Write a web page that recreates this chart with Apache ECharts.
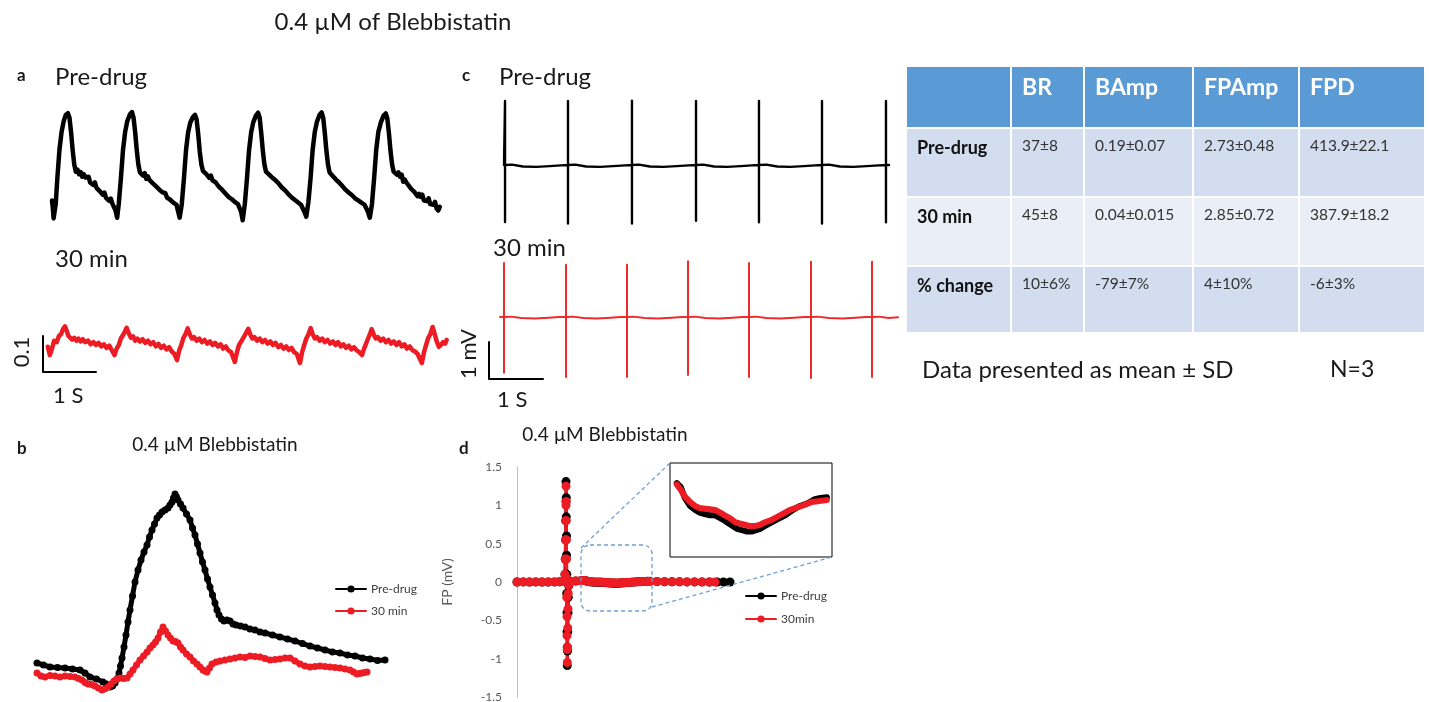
<!DOCTYPE html>
<html><head><meta charset="utf-8">
<script src="https://cdn.jsdelivr.net/npm/echarts@6/dist/echarts.min.js"></script>
<style>html,body{margin:0;padding:0;background:#fff}#c{width:1429px;height:702px}</style>
</head><body><div id="c"></div>
<script>
// ---------- DATA ----------
// Panel a, pre-drug beating trace: [time s, amplitude]
var blackA = [
[0.00,0.04],[0.015,0.02],[0.03,-0.01],[0.05,-0.015],[0.07,0.03],[0.10,0.10],[0.14,0.18],[0.18,0.23],[0.22,0.26],[0.26,0.278],[0.30,0.283],[0.33,0.27],[0.36,0.23],[0.39,0.18],[0.42,0.14],[0.45,0.12],[0.48,0.126],[0.51,0.113],[0.54,0.119],[0.57,0.106],[0.60,0.113],[0.63,0.104],[0.66,0.099],[0.69,0.106],[0.72,0.09],[0.75,0.093],[0.78,0.083],[0.81,0.09],[0.84,0.075],[0.87,0.079],[0.90,0.066],[0.93,0.071],[0.96,0.056],[0.99,0.062],[1.02,0.047],[1.05,0.05],[1.08,0.039],[1.11,0.045],[1.14,0.031],[1.17,0.036],[1.20,0.012],[1.23,-0.008],
[1.26,0.03],[1.30,0.10],[1.34,0.18],[1.38,0.23],[1.42,0.26],[1.47,0.279],[1.51,0.286],[1.54,0.27],[1.57,0.23],[1.60,0.18],[1.63,0.14],[1.66,0.118],[1.69,0.121],[1.72,0.109],[1.75,0.116],[1.78,0.10],[1.81,0.107],[1.84,0.097],[1.87,0.102],[1.90,0.088],[1.93,0.092],[1.96,0.08],[1.99,0.083],[2.02,0.071],[2.05,0.075],[2.08,0.063],[2.11,0.058],[2.14,0.06],[2.17,0.048],[2.20,0.053],[2.23,0.042],[2.26,0.045],[2.29,0.034],[2.32,0.038],[2.35,0.028],[2.38,0.01],[2.41,-0.008],
[2.45,0.03],[2.49,0.10],[2.53,0.18],[2.57,0.23],[2.61,0.256],[2.66,0.272],[2.70,0.278],[2.73,0.265],[2.76,0.225],[2.79,0.175],[2.82,0.14],[2.85,0.122],[2.88,0.127],[2.91,0.114],[2.94,0.118],[2.97,0.103],[3.00,0.109],[3.03,0.096],[3.06,0.10],[3.09,0.09],[3.12,0.093],[3.15,0.078],[3.18,0.082],[3.21,0.07],[3.24,0.073],[3.27,0.06],[3.30,0.064],[3.33,0.05],[3.36,0.054],[3.39,0.044],[3.42,0.047],[3.45,0.036],[3.48,0.039],[3.51,0.03],[3.54,0.025],[3.57,0.008],[3.60,-0.015],
[3.64,0.03],[3.68,0.10],[3.72,0.18],[3.76,0.23],[3.80,0.258],[3.85,0.276],[3.89,0.284],[3.92,0.27],[3.95,0.228],[3.98,0.178],[4.01,0.14],[4.04,0.12],[4.07,0.124],[4.10,0.112],[4.13,0.117],[4.16,0.103],[4.19,0.106],[4.22,0.096],[4.25,0.098],[4.28,0.087],[4.31,0.09],[4.34,0.076],[4.37,0.079],[4.40,0.068],[4.43,0.07],[4.46,0.058],[4.49,0.061],[4.52,0.049],[4.55,0.053],[4.58,0.042],[4.61,0.045],[4.64,0.035],[4.67,0.038],[4.70,0.028],[4.73,0.03],[4.76,0.01],[4.80,-0.005],
[4.84,0.035],[4.88,0.10],[4.92,0.18],[4.96,0.23],[5.00,0.258],[5.05,0.278],[5.09,0.285],[5.12,0.27],[5.15,0.228],[5.18,0.178],[5.21,0.14],[5.24,0.118],[5.27,0.121],[5.30,0.108],[5.33,0.112],[5.36,0.098],[5.39,0.102],[5.42,0.09],[5.45,0.093],[5.48,0.08],[5.51,0.084],[5.54,0.07],[5.57,0.073],[5.60,0.062],[5.63,0.065],[5.66,0.055],[5.69,0.057],[5.72,0.046],[5.75,0.05],[5.78,0.04],[5.81,0.043],[5.84,0.034],[5.87,0.037],[5.90,0.028],[5.93,0.03],[5.96,0.01],[6.00,-0.008],
[6.04,0.03],[6.08,0.10],[6.12,0.18],[6.16,0.23],[6.21,0.258],[6.26,0.276],[6.30,0.282],[6.33,0.268],[6.36,0.228],[6.39,0.178],[6.42,0.14],[6.45,0.12],[6.48,0.125],[6.51,0.112],[6.54,0.118],[6.57,0.106],[6.60,0.112],[6.63,0.092],[6.66,0.098],[6.69,0.09],[6.72,0.095],[6.75,0.078],[6.78,0.072],[6.81,0.076],[6.84,0.064],[6.87,0.068],[6.90,0.052],[6.93,0.058],[6.96,0.05],[6.99,0.056],[7.02,0.04],[7.05,0.045],[7.08,0.038],[7.11,0.046],[7.14,0.03],[7.17,0.034],[7.20,0.028],[7.23,0.036],[7.26,0.018],[7.29,0.012],[7.32,0.022]
];
// Panel a, 30 min trace
var redA = [
[0.09,-0.005],[0.13,-0.028],[0.17,-0.01],[0.21,0.012],[0.26,0.008],[0.30,0.025],[0.34,0.03],[0.38,0.045],[0.415,0.052],[0.45,0.038],[0.48,0.025],[0.51,0.03],[0.55,0.015],[0.59,0.02],[0.63,0.012],[0.67,0.018],[0.71,0.01],[0.75,0.016],[0.80,0.008],[0.85,0.012],[0.90,0.002],[0.95,0.008],[1.00,0.0],[1.05,0.006],[1.10,-0.004],[1.15,0.002],[1.20,-0.008],[1.25,-0.002],[1.30,-0.015],[1.35,-0.028],[1.39,-0.01],[1.43,0.0],[1.47,0.018],[1.52,0.03],[1.579,0.048],
[1.62,0.032],[1.66,0.02],[1.70,0.024],[1.74,0.012],[1.78,0.018],[1.83,0.01],[1.88,0.016],[1.93,0.006],[1.98,0.012],[2.03,0.002],[2.08,0.008],[2.13,-0.004],[2.18,0.003],[2.23,-0.008],[2.28,-0.002],[2.33,-0.012],[2.38,-0.006],[2.43,-0.018],[2.48,-0.025],[2.53,-0.042],[2.57,-0.015],[2.61,0.0],[2.65,0.02],[2.69,0.03],[2.73,0.046],
[2.77,0.03],[2.81,0.018],[2.85,0.022],[2.90,0.012],[2.95,0.018],[3.00,0.008],[3.05,0.014],[3.10,0.004],[3.15,0.01],[3.20,0.0],[3.25,0.006],[3.30,-0.004],[3.35,0.002],[3.40,-0.01],[3.45,-0.004],[3.50,-0.015],[3.55,-0.02],[3.62,-0.047],[3.66,-0.02],[3.70,0.0],[3.75,0.012],[3.80,0.025],[3.874,0.045],
[3.91,0.03],[3.95,0.018],[3.99,0.022],[4.04,0.012],[4.09,0.018],[4.14,0.008],[4.19,0.014],[4.24,0.004],[4.29,0.01],[4.34,0.0],[4.39,0.006],[4.44,-0.006],[4.49,0.0],[4.54,-0.01],[4.59,-0.004],[4.64,-0.014],[4.69,-0.008],[4.74,-0.02],[4.79,-0.025],[4.85,-0.05],[4.89,-0.02],[4.93,0.0],[4.97,0.018],[5.01,0.03],[5.051,0.047],
[5.09,0.03],[5.13,0.018],[5.17,0.022],[5.22,0.012],[5.27,0.018],[5.32,0.008],[5.37,0.014],[5.42,0.004],[5.47,0.01],[5.52,0.0],[5.57,0.008],[5.62,-0.004],[5.67,0.002],[5.72,-0.008],[5.77,-0.002],[5.82,-0.012],[5.87,-0.006],[5.92,-0.015],[5.97,-0.02],[6.02,-0.028],[6.06,-0.01],[6.10,0.005],[6.14,0.02],[6.17,0.03],[6.202,0.044],
[6.24,0.03],[6.28,0.018],[6.32,0.022],[6.37,0.012],[6.42,0.018],[6.47,0.008],[6.52,0.014],[6.57,0.004],[6.62,0.01],[6.67,0.0],[6.72,0.008],[6.77,-0.004],[6.82,0.002],[6.87,-0.01],[6.92,-0.004],[6.97,-0.014],[7.02,-0.018],[7.07,-0.025],[7.15,-0.05],[7.19,-0.02],[7.23,0.0],[7.27,0.02],[7.31,0.03],[7.353,0.05],
[7.39,0.032],[7.43,0.01],[7.47,-0.005],[7.51,0.0],[7.55,0.008],[7.59,0.004],[7.62,0.014]
];
var scaleBarA = [[0,0.025],[0,-0.075],[1,-0.075]];   // 0.1 x 1 S
// Panel c, field potential traces [time s, mV]
var blackC = [
[0,0],[0.019,0],[0.019,1.73],[0.019,-1.54],[0.019,0],[0.15,0.01],[0.35,-0.04],[0.6,-0.05],[0.85,-0.03],[1.05,-0.01],
[1.185,0],[1.185,1.73],[1.185,-1.58],[1.185,0],[1.32,0.01],[1.52,-0.04],[1.78,-0.05],[2.02,-0.03],[2.24,-0.01],
[2.370,0],[2.370,1.74],[2.370,-1.58],[2.370,0],[2.50,0.01],[2.70,-0.04],[2.95,-0.05],[3.2,-0.03],[3.42,-0.01],
[3.556,0],[3.556,1.73],[3.556,-1.51],[3.556,0],[3.69,0.01],[3.89,-0.04],[4.13,-0.05],[4.38,-0.03],[4.59,-0.01],
[4.722,0],[4.722,1.73],[4.722,-1.55],[4.722,0],[4.86,0.01],[5.06,-0.04],[5.3,-0.05],[5.55,-0.03],[5.76,-0.01],
[5.889,0],[5.889,1.73],[5.889,-1.58],[5.889,0],[6.02,0.01],[6.22,-0.04],[6.47,-0.05],[6.72,-0.03],[6.94,-0.01],
[7.074,0],[7.074,1.73],[7.074,-1.55],[7.074,0],[7.13,0]
];
var redC = [
[0.204,0],[0.278,0],[0.278,1.46],[0.278,-1.51],[0.278,0],[0.40,0.01],[0.60,-0.03],[0.85,-0.04],[1.10,-0.02],[1.30,0],
[1.426,0],[1.426,1.41],[1.426,-1.62],[1.426,0],[1.55,0.01],[1.75,-0.03],[2.00,-0.04],[2.25,-0.02],[2.43,0],
[2.556,0],[2.556,1.41],[2.556,-1.62],[2.556,0],[2.68,0.01],[2.88,-0.03],[3.13,-0.04],[3.38,-0.02],[3.56,0],
[3.685,0],[3.685,1.51],[3.685,-1.57],[3.685,0],[3.81,0.01],[4.01,-0.03],[4.26,-0.04],[4.51,-0.02],[4.69,0],
[4.815,0],[4.815,1.46],[4.815,-1.62],[4.815,0],[4.94,0.01],[5.14,-0.03],[5.39,-0.04],[5.64,-0.02],[5.84,0],
[5.963,0],[5.963,1.49],[5.963,-1.65],[5.963,0],[6.09,0.01],[6.29,-0.03],[6.54,-0.04],[6.79,-0.02],[6.97,0],
[7.093,0],[7.093,1.49],[7.093,-1.62],[7.093,0],[7.22,0.01],[7.40,-0.03],[7.574,-0.01]
];
var scaleBarC = [[0,-0.676],[0,-1.676],[1,-1.676]];  // 1 mV x 1 S
// Panel b, averaged beat [ms, amplitude]
var blackB = [[14,0.135],[27,0.125],[40,0.115],[55,0.112],[70,0.11],[85,0.105],[100,0.10],[110,0.085],[120,0.065],[133,0.055],[146,0.04],[153,0.03],[160,0.015],[165,0.02],[170,0.035],[174,0.055],[178,0.085],[181,0.12],[184,0.16],[188,0.215],[192,0.275],[196,0.34],[200,0.40],[205,0.47],[210,0.54],[216,0.60],[222,0.65],[228,0.69],[234,0.725],[239,0.765],[244,0.80],[249,0.83],[254,0.86],[259,0.875],[264,0.89],[270,0.90],[276,0.91],[280,0.925],[284,0.94],[287,0.96],[290,0.98],[293,0.965],[296,0.95],[301,0.93],[306,0.91],[313,0.88],[320,0.85],[325,0.81],[330,0.775],[335,0.73],[340,0.685],[345,0.64],[350,0.60],[355,0.555],[360,0.515],[365,0.475],[370,0.435],[374,0.40],[378,0.375],[383,0.355],[388,0.345],[394,0.35],[400,0.345],[406,0.33],[412,0.325],[421,0.32],[430,0.315],[440,0.305],[450,0.30],[460,0.29],[470,0.285],[485,0.275],[500,0.265],[515,0.255],[530,0.245],[545,0.232],[560,0.22],[575,0.21],[590,0.20],[605,0.19],[620,0.185],[635,0.175],[650,0.17],[665,0.16],[680,0.155],[695,0.148],[710,0.15]];
var redB = [[14,0.085],[22,0.07],[30,0.065],[40,0.072],[50,0.07],[60,0.065],[70,0.07],[80,0.068],[90,0.065],[97,0.058],[104,0.05],[110,0.038],[116,0.03],[123,0.027],[130,0.02],[137,0.01],[144,0.0],[150,0.006],[156,0.015],[162,0.03],[168,0.045],[174,0.055],[180,0.06],[187,0.058],[194,0.06],[200,0.08],[206,0.10],[213,0.125],[220,0.15],[227,0.17],[234,0.19],[240,0.21],[246,0.225],[251,0.24],[256,0.26],[261,0.29],[266,0.315],[271,0.295],[276,0.275],[281,0.26],[286,0.245],[291,0.242],[296,0.235],[301,0.215],[306,0.20],[313,0.18],[320,0.165],[327,0.145],[334,0.13],[340,0.115],[346,0.10],[350,0.095],[354,0.09],[359,0.11],[364,0.13],[372,0.14],[380,0.145],[390,0.15],[400,0.155],[410,0.16],[420,0.165],[430,0.162],[440,0.17],[450,0.168],[460,0.165],[470,0.158],[480,0.15],[490,0.152],[500,0.155],[510,0.16],[520,0.16],[530,0.145],[540,0.13],[550,0.12],[560,0.115],[570,0.118],[580,0.12],[590,0.118],[600,0.115],[610,0.112],[620,0.11],[630,0.105],[640,0.10],[647,0.09],[654,0.08],[659,0.082],[664,0.085],[669,0.088],[674,0.09]];
// Panel d, field potential [ms, mV]
var dBlackSpike = [[0,0],[25,0.001],[50,-0.001],[75,0.001],[100,0],[125,-0.001],[150,0.001],[170,0.003],[185,0.006],[192,0.1],[193,0.3],[194,0.55],[195,0.8],[196,1.05],[196,1.31],[197,1.1],[197,0.85],[198,0.6],[198,0.35],[199,0.1],[199,-0.15],[200,-0.4],[200,-0.65],[201,-0.85],[201,-1.09],[202,-0.9],[203,-0.65],[204,-0.4],[205,-0.2],[207,-0.05],[215,0.006],[235,0.012],[255,0.017]];
var dRedSpike = [[0,0],[25,0.001],[50,-0.001],[75,0.001],[100,0],[125,-0.001],[150,0.001],[170,0.003],[185,0.006],[192,0.1],[193,0.3],[194,0.55],[195,0.8],[196,1.0],[196,1.25],[197,1.05],[197,0.8],[198,0.55],[198,0.3],[199,0.05],[199,-0.2],[200,-0.45],[200,-0.7],[201,-0.88],[201,-1.05],[202,-0.85],[203,-0.6],[204,-0.35],[205,-0.15],[207,-0.04],[215,0.006],[235,0.012],[255,0.016]];
var insetBlack = [[268,0.020],[275,0.017],[282,0.009],[291,0.003],[300,0],[308,-0.002],[317,-0.003],[326,-0.004],[335,-0.004],[344,-0.006],[352,-0.008],[359,-0.010],[366,-0.012],[374,-0.014],[382,-0.015],[391,-0.016],[400,-0.016],[407,-0.015],[414,-0.014],[422,-0.012],[431,-0.010],[444,-0.007],[458,-0.004],[471,0],[484,0.003],[497,0.005],[510,0.008],[520,0.009],[531,0.0095]];
var insetRed = [[268,0.019],[275,0.015],[282,0.010],[291,0.006],[300,0.003],[308,0.0015],[317,0.001],[326,0.0005],[335,0],[344,-0.002],[352,-0.004],[361,-0.006],[370,-0.009],[378,-0.010],[387,-0.011],[396,-0.012],[405,-0.012],[414,-0.011],[423,-0.009],[431,-0.008],[440,-0.006],[453,-0.003],[466,0],[479,0.002],[493,0.004],[504,0.006],[515,0.0065],[523,0.007],[531,0.0075]];
var dBlackTail = [[560,0.006],[590,0.004],[620,0.003],[650,0.002],[680,0.001],[710,0.001],[740,0.001],[770,0],[800,0],[826,0],[852,0]];
var dRedTail = [[560,0.005],[590,0.003],[620,0.002],[650,0.002],[680,0.001],[710,0.001],[740,0],[770,0],[792,0]];
// Table
var tableColumns = ['BR','BAmp','FPAmp','FPD'];
var tableRows = ['Pre-drug','30 min','% change'];
var tableValues = [
  ['37±8','0.19±0.07','2.73±0.48','413.9±22.1'],
  ['45±8','0.04±0.015','2.85±0.72','387.9±18.2'],
  ['10±6%','-79±7%','4±10%','-6±3%']
];

// ---------- LAYOUT ----------
var FONT = 'Lato, "Open Sans", sans-serif';
var BLACK = '#000000', RED = '#ed1c24';
function txt(x,y,s,size,opt){
  opt = opt||{};
  return {type:'text', x:x, y:y, rotation:opt.rot||0, silent:true, z:10,
    style:{x:0,y:0,text:s, fill:opt.color||'#1a1a1a',
      font:(opt.bold?'bold ':'')+size+'px '+FONT,
      textAlign:opt.align||'left', align:opt.align||'left',
      textVerticalAlign:'middle', verticalAlign:'middle'}};
}
var graphics = [];
graphics.push(txt(393,22,'0.4 µM of Blebbistatin',24,{align:'center'}));
graphics.push(txt(17,76,'a',17,{bold:true}));
graphics.push(txt(55,77,'Pre-drug',24));
graphics.push(txt(55,259,'30 min',24));
graphics.push(txt(22,352,'0.1',22,{rot:Math.PI/2,align:'center'}));
graphics.push(txt(53,396,'1 S',22));
graphics.push(txt(462,76,'c',17,{bold:true}));
graphics.push(txt(499,77,'Pre-drug',24));
graphics.push(txt(493,248,'30 min',24));
graphics.push(txt(469,354,'1 mV',22,{rot:Math.PI/2,align:'center'}));
graphics.push(txt(497,400,'1 S',22));
graphics.push(txt(17,449,'b',17,{bold:true}));
graphics.push(txt(215,445,'0.4 µM Blebbistatin',19,{align:'center'}));
graphics.push(txt(459,449,'d',17,{bold:true}));
graphics.push(txt(605,435,'0.4 µM Blebbistatin',19,{align:'center'}));
graphics.push(txt(922,370,'Data presented as mean ± SD',24));
graphics.push(txt(1330,370,'N=3',23));
// table
var colX = [906,1011,1084,1193,1299,1425];
var rowY = [66,128,197,266,333];
var rowFill = ['#5b9bd5','#d2deef','#eaeff7','#d2deef'];
for (var r=0;r<4;r++){
  for (var c=0;c<5;c++){
    graphics.push({type:'rect', silent:true, z:1,
      shape:{x:colX[c]+1,y:rowY[r]+1,width:colX[c+1]-colX[c]-2,height:rowY[r+1]-rowY[r]-2},
      style:{fill:rowFill[r]}});
  }
}
tableColumns.forEach(function(h,i){ graphics.push(txt(colX[i+1]+11,88,h,23,{bold:true,color:'#ffffff'})); });
tableRows.forEach(function(h,i){
  graphics.push(txt(colX[0]+11,rowY[i+1]+20,h,18,{bold:true,color:'#111'}));
  tableValues[i].forEach(function(v,j){ graphics.push(txt(colX[j+1]+11,rowY[i+1]+18,v,15.5,{color:'#333'})); });
});
// zoom box + connectors (panel d)
var dash = {stroke:'#6f9fd4', lineWidth:1.3, lineDash:[4,3], fill:null};
graphics.push({type:'rect', silent:true, z:5, shape:{x:581,y:545,width:71,height:66,r:9}, style:dash});
graphics.push({type:'line', silent:true, z:5, shape:{x1:581,y1:548,x2:670,y2:463}, style:dash});
graphics.push({type:'line', silent:true, z:5, shape:{x1:652,y1:607,x2:832,y2:557}, style:dash});

function hiddenAxis(gi,min,max){ return {type:'value', gridIndex:gi, min:min, max:max, show:false, scale:true}; }
function trace(name,gi,data,color,w,sym){
  return {name:name, type:'line', xAxisIndex:gi, yAxisIndex:gi, data:data,
    lineStyle:{color:color,width:w, join:'round', cap:'round'}, itemStyle:{color:color},
    symbol: sym? 'circle':'none', symbolSize: sym||0, showSymbol: !!sym,
    silent:true, animation:false, z:3};
}
var grids = [
  {left:52, top:107, width:392, height:115},
  {left:43, top:309, width:408, height:72},
  {left:504, top:98.4, width:385, height:125.8},
  {left:489, top:257.8, width:409, height:125.8},
  {left:30, top:470, width:370, height:230},
  {left:517, top:467, width:250, height:230},
  {left:670, top:463, width:162, height:94, show:true, borderColor:'#000', borderWidth:1, backgroundColor:'#fff', z:4}
];
grids.forEach(function(g){ g.outerBoundsMode='none'; g.containLabel=false; });

var xAxes = [hiddenAxis(0,0,7.4),hiddenAxis(1,0,7.7),hiddenAxis(2,0,7.13),hiddenAxis(3,0,7.574),
  hiddenAxis(4,0,740),hiddenAxis(5,0,1000),hiddenAxis(6,256,540)];
var yAxes = [hiddenAxis(0,-0.02,0.3),hiddenAxis(1,-0.1,0.1),hiddenAxis(2,-1.6,1.8),hiddenAxis(3,-1.8,1.6),
  hiddenAxis(4,-0.05,1.1),
  {type:'value', gridIndex:5, min:-1.5, max:1.5, interval:0.5,
    axisLine:{show:true, onZero:false, lineStyle:{color:'#bfbfbf',width:1}}, axisTick:{show:false}, splitLine:{show:false},
    axisLabel:{color:'#595959', fontSize:12, fontFamily:FONT, margin:15},
    name:'FP (mV)', nameLocation:'middle', nameGap:63, nameTextStyle:{color:'#595959',fontSize:14,fontFamily:FONT}},
  hiddenAxis(6,-0.035,0.035)];

var series = [
  trace('a-pre',0,blackA,BLACK,4.5),
  trace('a-30',1,redA,RED,4.5),
  trace('a-bar',1,scaleBarA,BLACK,2),
  trace('c-pre',2,blackC,BLACK,2.4),
  trace('c-30',3,redC,'#ee2a2a',2),
  trace('c-bar',3,scaleBarC,BLACK,2),
  trace('Pre-drug',4,blackB,BLACK,5,7),
  trace('30 min',4,redB,RED,5,7),
  trace('Pre-drug (d)',5,dBlackSpike.concat(insetBlack,dBlackTail),BLACK,3,9),
  trace('30min',5,dRedSpike.concat(insetRed,dRedTail),RED,3,9),
  trace('inset-pre',6,insetBlack,BLACK,6),
  trace('inset-30',6,insetRed,RED,6)
];
series[10].z = 6; series[11].z = 6;

var legendText = {fontSize:12, color:'#404040', fontFamily:FONT};
var option = {
  backgroundColor:'#ffffff',
  animation:false,
  graphic: graphics,
  grid: grids,
  xAxis: xAxes,
  yAxis: yAxes,
  legend: [
    {data:['Pre-drug','30 min'], left:335, top:583, orient:'vertical', itemWidth:30, itemHeight:9, itemGap:10,
     selectedMode:false, textStyle:legendText, padding:0},
    {data:['Pre-drug (d)','30min'], left:745, top:590, orient:'vertical', itemWidth:30, itemHeight:9, itemGap:11,
     selectedMode:false, textStyle:legendText, padding:0,
     formatter:function(n){ return n.replace(' (d)',''); }}
  ],
  series: series
};
var chart = echarts.init(document.getElementById('c'), null, {renderer:'canvas'});
chart.setOption(option);
</script>
</body></html>
